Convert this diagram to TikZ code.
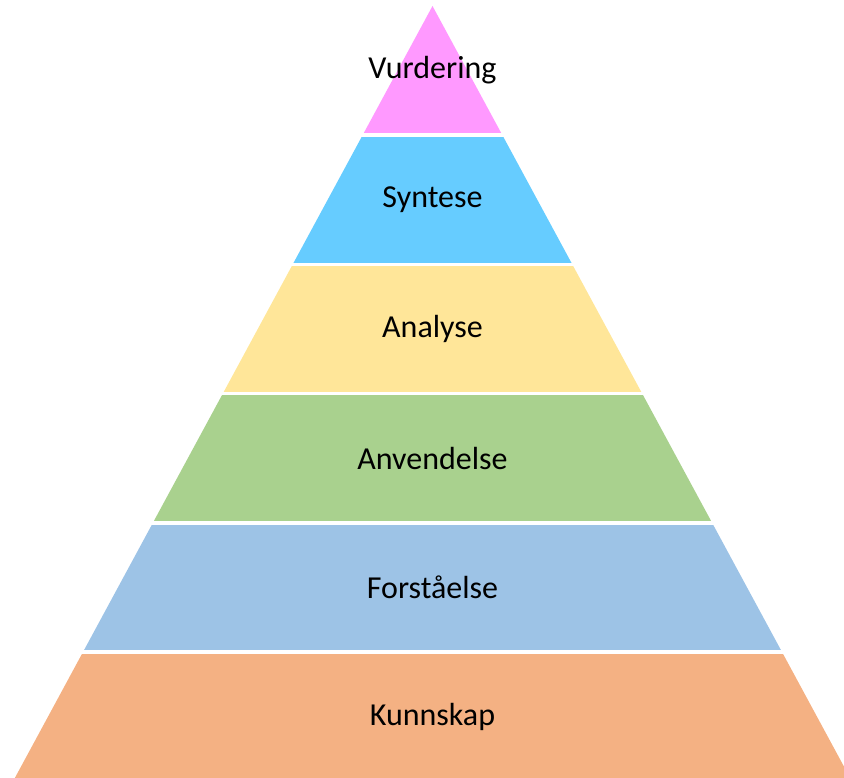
\documentclass[tikz,border=0pt]{standalone}
\usepackage{fontspec}
\setmainfont{Carlito}
\definecolor{cPink}{HTML}{FF99FF}
\definecolor{cBlue}{HTML}{66CCFF}
\definecolor{cYellow}{HTML}{FFE699}
\definecolor{cGreen}{HTML}{A9D18E}
\definecolor{cLBlue}{HTML}{9DC3E6}
\definecolor{cOrange}{HTML}{F4B183}
\begin{document}
\begin{tikzpicture}[x=1pt,y=-1pt,
  band/.style={draw=none},
  gap/.style={draw=white,line width=3.5pt},
  lbl/.style={font=\fontsize{32}{38}\selectfont, text=black, anchor=center}]
\useasboundingbox (0,0) rectangle (844,778);
\begin{scope}
\clip (0,0) rectangle (844,778);
\fill[cPink]   (432.5,6) -- (502.4,135.2) -- (362.6,135.2) -- cycle;
\fill[cBlue]   (362.6,135.2) -- (502.4,135.2) -- (572.3,264.4) -- (292.7,264.4) -- cycle;
\fill[cYellow] (292.7,264.4) -- (572.3,264.4) -- (642.2,393.6) -- (222.8,393.6) -- cycle;
\fill[cGreen]  (222.8,393.6) -- (642.2,393.6) -- (712.1,522.8) -- (152.9,522.8) -- cycle;
\fill[cLBlue]  (152.9,522.8) -- (712.1,522.8) -- (782.0,652.0) -- (83.0,652.0) -- cycle;
\fill[cOrange] (83.0,652.0) -- (782.0,652.0) -- (851.9,781.2) -- (13.1,781.2) -- cycle;
\draw[gap] (355,135.2) -- (510,135.2);
\draw[gap] (285,264.4) -- (580,264.4);
\draw[gap] (215,393.6) -- (650,393.6);
\draw[gap] (145,522.8) -- (720,522.8);
\draw[gap] (75,652.0) -- (790,652.0);
\end{scope}
\node[lbl] (v) at (432.5,70.6) {Vurdering};
\node[lbl] (s) at (432.5,199.8) {Syntese};
\node[lbl] (a) at (432.5,329) {Analyse};
\node[lbl] (an) at (432.5,458.2) {Anvendelse};
\node[lbl] (f) at (432.5,587.4) {Forståelse};
\node[lbl] (k) at (432.5,716.6) {Kunnskap};
\end{tikzpicture}
\end{document}
